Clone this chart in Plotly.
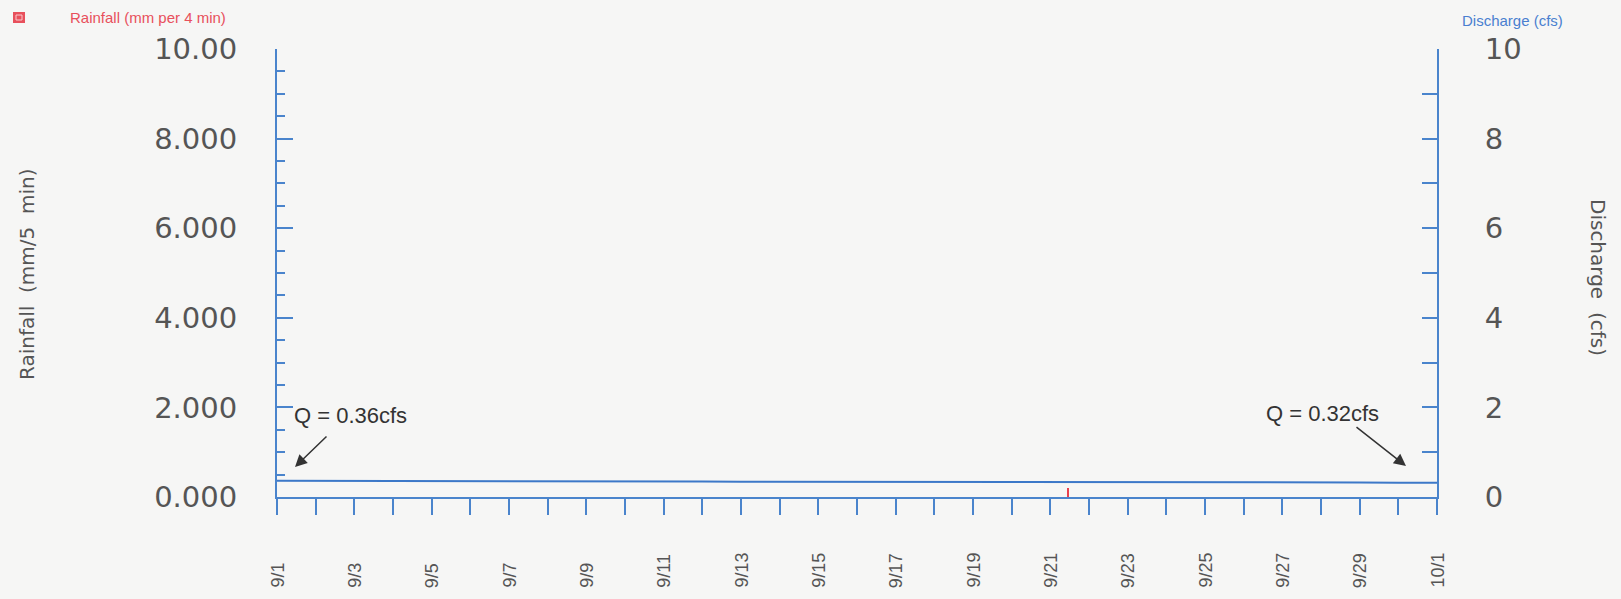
import plotly.graph_objects as go

# ---------------- data ----------------
discharge_dates = [f"2005-09-{d:02d}" for d in range(1, 31)] + ["2005-10-01"]
discharge_cfs = [0.36, 0.36, 0.36, 0.36, 0.355, 0.355, 0.35, 0.35, 0.35, 0.35,
                 0.345, 0.345, 0.34, 0.34, 0.34, 0.34, 0.335, 0.335, 0.335, 0.335,
                 0.34, 0.34, 0.34, 0.34, 0.34, 0.335, 0.33, 0.325, 0.325, 0.32, 0.32]

rain_dates = ["2005-09-21 11:00"]
rain_mm = [0.2]

x_tick_dates = [f"2005-09-{d:02d}" for d in range(1, 31)] + ["2005-10-01"]
x_label_dates = [f"2005-09-{d:02d}" for d in range(1, 31, 2)] + ["2005-10-01"]
x_label_text = [f"9/{d}" for d in range(1, 31, 2)] + ["10/1"]

left_tickvals = [0, 2, 4, 6, 8, 10]
left_ticktext = ["0.000", "2.000", "4.000", "6.000", "8.000", "10.00"]
right_tickvals = [0, 2, 4, 6, 8, 10]
right_ticktext = ["0", "2", "4", "6", "8", "10"]

# ---------------- layout geometry ----------------
W, H = 1621, 599
L, R, T, B = 277, 1437, 49, 497
PW, PH = R - L, B - T


def px_x(px):
    return (px - L) / PW


def px_y(py):
    return (B - py) / PH


AXIS_BLUE = "#4a84cc"
LINE_BLUE = "#3c78c8"
GREY = "#555555"
BG = "#f6f6f5"

fig = go.Figure()

fig.add_trace(go.Bar(
    x=rain_dates, y=rain_mm, yaxis="y", width=4.5e6,
    marker=dict(color="#e8404f", line=dict(width=0)), name="Rainfall",
    showlegend=False,
))

fig.add_trace(go.Scatter(
    x=discharge_dates, y=discharge_cfs, yaxis="y2", mode="lines",
    line=dict(color=LINE_BLUE, width=2), name="Discharge", showlegend=False,
))

annotations = []

# x labels, bottom aligned
for d, t in zip(x_label_dates, x_label_text):
    annotations.append(dict(
        x=d, xref="x", y=px_y(590), yref="paper", text=t, showarrow=False,
        textangle=-90, xanchor="center", yanchor="bottom",
        font=dict(family="Liberation Sans, Arial", size=18, color=GREY),
    ))

# axis titles
annotations.append(dict(
    x=px_x(27), y=px_y(274), xref="paper", yref="paper",
    text="Rainfall\u00a0\u00a0(mm/5\u00a0\u00a0min)", showarrow=False, textangle=-90,
    xanchor="center", yanchor="middle",
    font=dict(family="DejaVu Sans", size=20, color=GREY),
))
annotations.append(dict(
    x=px_x(1598), y=px_y(277), xref="paper", yref="paper",
    text="Discharge\u00a0\u00a0(cfs)", showarrow=False, textangle=90,
    xanchor="center", yanchor="middle",
    font=dict(family="DejaVu Sans", size=20, color=GREY),
))

# top legend texts
annotations.append(dict(
    x=px_x(68), y=px_y(17), xref="paper", yref="paper",
    text="Rainfall (mm per 4 min)", showarrow=False,
    xanchor="left", yanchor="middle",
    font=dict(family="Liberation Sans, Arial", size=15, color="#e8505c"),
))
annotations.append(dict(
    x=px_x(1460), y=px_y(20), xref="paper", yref="paper",
    text="Discharge (cfs)", showarrow=False,
    xanchor="left", yanchor="middle",
    font=dict(family="Liberation Sans, Arial", size=15, color="#4a7fd0"),
))

# Q labels
annotations.append(dict(
    x=px_x(350), y=px_y(415), xref="paper", yref="paper",
    text="Q = 0.36cfs", showarrow=False, xanchor="center", yanchor="middle",
    font=dict(family="Liberation Sans, Arial", size=22, color="#333333"),
))
annotations.append(dict(
    x=px_x(1322), y=px_y(413), xref="paper", yref="paper",
    text="Q = 0.32cfs", showarrow=False, xanchor="center", yanchor="middle",
    font=dict(family="Liberation Sans, Arial", size=22, color="#333333"),
))

# arrows
annotations.append(dict(
    x=px_x(295), y=px_y(467), xref="paper", yref="paper", text="",
    showarrow=True, ax=33, ay=-32, arrowhead=2, arrowsize=1.6, arrowwidth=1.5,
    arrowcolor="#333333",
))
annotations.append(dict(
    x=px_x(1406), y=px_y(466), xref="paper", yref="paper", text="",
    showarrow=True, ax=-51, ay=-40, arrowhead=2, arrowsize=1.6, arrowwidth=1.5,
    arrowcolor="#333333",
))

shapes = [
    dict(type="rect", xref="paper", yref="paper",
         x0=px_x(13), x1=px_x(25), y0=px_y(23), y1=px_y(12),
         fillcolor="#e8505c", line=dict(width=0)),
    dict(type="rect", xref="paper", yref="paper",
         x0=px_x(16), x1=px_x(22), y0=px_y(20), y1=px_y(15),
         fillcolor="rgba(0,0,0,0)", line=dict(width=1, color="#f9c8cc")),
]

fig.update_layout(
    width=W, height=H,
    margin=dict(l=L, r=W - R, t=T, b=H - B, pad=0),
    paper_bgcolor=BG, plot_bgcolor=BG,
    showlegend=False,
    bargap=0,
    xaxis=dict(
        type="date", range=["2005-09-01", "2005-10-01"],
        tickvals=x_tick_dates, ticks="outside", ticklen=16, tickwidth=2,
        tickcolor=AXIS_BLUE, showticklabels=False, showgrid=False,
        zeroline=False, showline=True, linecolor=AXIS_BLUE, linewidth=2,
        mirror=False,
    ),
    yaxis=dict(
        range=[0, 10], tickvals=left_tickvals, ticktext=left_ticktext,
        ticks="inside", ticklen=16, tickwidth=2, tickcolor=AXIS_BLUE,
        minor=dict(dtick=0.5, tick0=0, ticks="inside", ticklen=8, tickwidth=2,
                   tickcolor=AXIS_BLUE, showgrid=False),
        showgrid=False, zeroline=False, showline=True, linecolor=AXIS_BLUE,
        linewidth=2, ticklabelstandoff=32,
        tickfont=dict(family="DejaVu Sans", size=29, color=GREY),
    ),
    yaxis2=dict(
        range=[0, 10], overlaying="y", side="right", anchor="x",
        tickvals=right_tickvals, ticktext=right_ticktext,
        ticks="inside", ticklen=15, tickwidth=2, tickcolor=AXIS_BLUE,
        minor=dict(dtick=1, tick0=0, ticks="inside", ticklen=15, tickwidth=2,
                   tickcolor=AXIS_BLUE, showgrid=False),
        showgrid=False, zeroline=False, showline=True, linecolor=AXIS_BLUE,
        linewidth=2, ticklabelstandoff=40,
        tickfont=dict(family="DejaVu Sans", size=29, color=GREY),
    ),
    annotations=annotations,
    shapes=shapes,
)

fig.write_html(
    "out.html",
    config={"displayModeBar": False},
    post_script=(
        "document.body.style.margin='0';document.body.style.padding='0';"
        "document.body.style.background='" + BG + "';"
    ),
)
